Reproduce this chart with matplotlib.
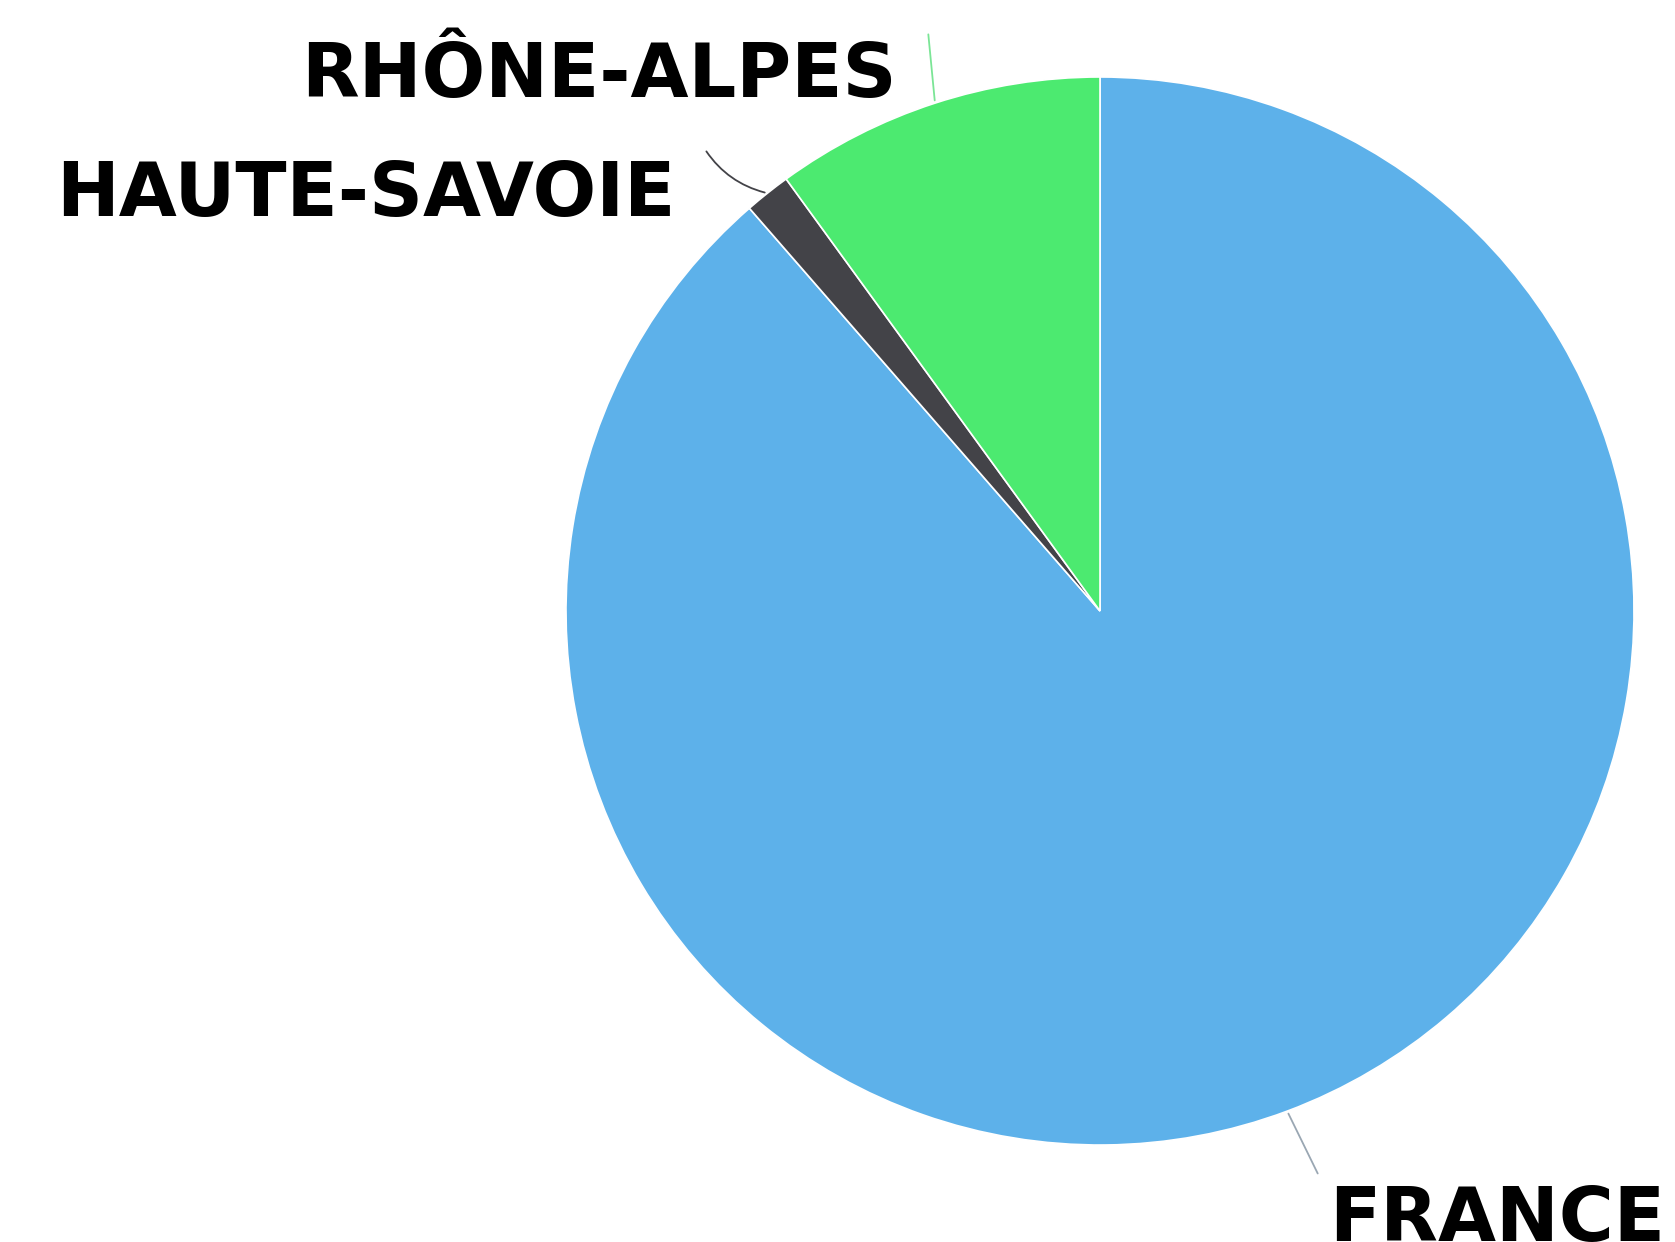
import numpy as np
import matplotlib
matplotlib.use("Agg")
import matplotlib.pyplot as plt

# part of each region
labels = ['FRANCE', 'HAUTE-SAVOIE', 'RHÔNE-ALPES']
values = [88.6, 1.4, 10.0]
colors = ['#5DB1EA', '#434348', '#4CEA70']
line_colors = ['#9aa7b3', '#434348', '#7be596']

W, H = 1675, 1242
R = 534.0           # pie radius in px
cx, cy = 1100, 611  # pie centre in px (from top-left)

fig = plt.figure(figsize=(W / 100, H / 100), dpi=100)
ax = fig.add_axes([0, 0, 1, 1])
wedges, _ = ax.pie(values, colors=colors, startangle=90, counterclock=False,
                   wedgeprops=dict(edgecolor='white', linewidth=1.2))
ax.set_xlim(-cx / R, (W - cx) / R)
ax.set_ylim(-(H - cy) / R, cy / R)
ax.set_aspect('equal')
ax.axis('off')

# label anchors: (text x, text y, ha, elbow x, elbow y, curve)
label_pos = {
    'FRANCE': (1.058, -1.18, 'right', 0.41, -1.058, 0.0),
    'HAUTE-SAVOIE': (-0.795, 0.74, 'right', -0.74, 0.865, 0.2),
    'RHÔNE-ALPES': (-0.38, 0.962, 'right', -0.322, 1.085, 0.0),
}

for w, lab, lc in zip(wedges, labels, line_colors):
    mid = np.deg2rad((w.theta1 + w.theta2) / 2)
    px, py = np.cos(mid), np.sin(mid)
    tx, ty, ha, ex, ey, rad = label_pos[lab]
    ax.annotate('', xy=(px, py), xytext=(ex, ey),
                arrowprops=dict(arrowstyle='-', color=lc, lw=1.3,
                                connectionstyle='arc3,rad=%s' % rad))
    ax.text(tx, ty, lab, ha=ha, va='baseline', fontsize=54,
            fontweight='bold', family=['DejaVu Sans'], color='black')

fig.savefig('out.png', dpi=100)
